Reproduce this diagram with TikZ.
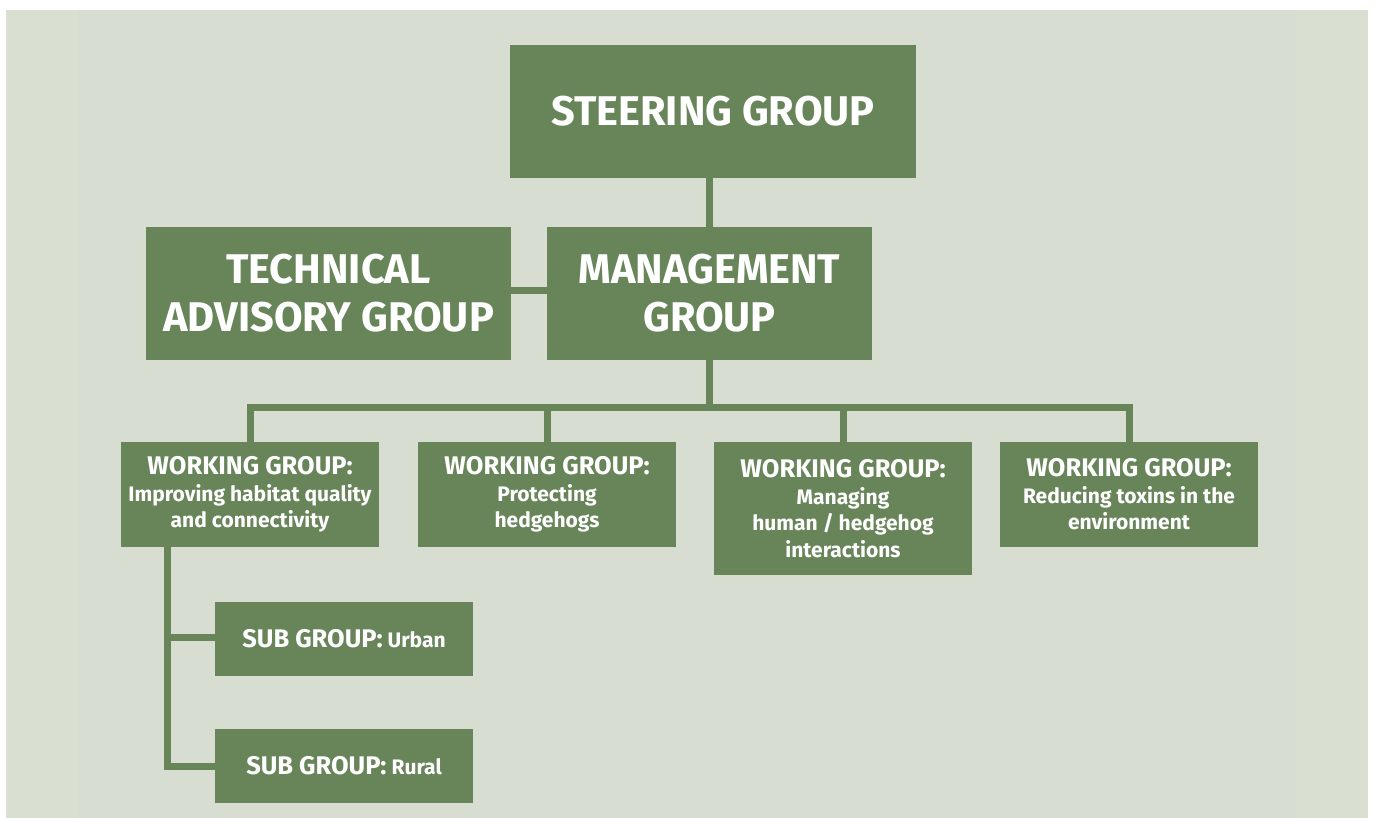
\documentclass[tikz,border=0pt]{standalone}
\usepackage{fontspec}
\setmainfont{Fira Sans}
\usetikzlibrary{calc}
\definecolor{bg}{HTML}{D7DDD1}
\definecolor{bgside}{HTML}{D9DFD1}
\definecolor{leaf}{HTML}{68855A}
\tikzset{
  box/.style={fill=leaf, text=white, inner sep=0pt, align=center, font=\bfseries},
  big/.style={box, font=\bfseries\fontsize{41.5}{48}\selectfont},
  wg/.style={box, minimum width=258pt, font=\bfseries\fontsize{21}{26.5}\selectfont},
  link/.style={draw=leaf, line width=7pt, line join=miter}
}
\newcommand{\wgh}{{\fontsize{25.5}{26.5}\selectfont WORKING GROUP:}}
\newcommand{\sgh}{{\fontsize{25.5}{26.5}\selectfont SUB GROUP:}}
\begin{document}
\begin{tikzpicture}[x=1pt,y=-1pt]
\useasboundingbox (0,0) rectangle (1375,818);
\fill[white] (0,0) rectangle (1375,818);
\fill[bgside] (6,10) rectangle (1368,818);
\fill[bg] (78,10) rectangle (1296,818);

\node[big, minimum width=406pt, minimum height=133pt] (steer) at (713,111.5) {STEERING GROUP};
\node[big, minimum width=325pt, minimum height=133pt] (mgmt) at (709.5,293.5) {MANAGEMENT\\GROUP};
\node[big, minimum width=365pt, minimum height=133pt] (tech) at (328.5,293.5) {TECHNICAL\\ADVISORY GROUP};

\node[wg, minimum height=105pt] (wg1) at (250,494.5) {\wgh\\Improving habitat quality\\and connectivity};
\node[wg, minimum height=105pt] (wg2) at (547,494.5) {\wgh\\Protecting\\hedgehogs};
\node[wg, minimum height=133pt] (wg3) at (843,508.5) {\wgh\\Managing\\human / hedgehog\\interactions};
\node[wg, minimum height=105pt] (wg4) at (1129,494.5) {\wgh\\Reducing toxins in the\\environment};

\node[wg, minimum height=74pt] (urban) at (344,639) {\sgh{} Urban};
\node[wg, minimum height=74pt] (rural) at (344,766) {\sgh{} Rural};

\coordinate (bus) at (709,407);
\coordinate (trunk) at (167,547);

\draw[link] (mgmt.north -| 709,0) -- (steer.south -| 709,0);
\draw[link] ($(tech.east)+(0,-3.5)$) -- ($(mgmt.west)+(0,-3.5)$);
\draw[link] (mgmt.south -| bus) -- (bus);
\draw[link] (wg1.north) -- (wg1.north |- bus) -- (wg4.north |- bus) -- (wg4.north);
\draw[link] (wg2.north) -- (wg2.north |- bus);
\draw[link] (wg3.north) -- (wg3.north |- bus);
\draw[link] (trunk) |- (rural.west);
\draw[link] (trunk |- urban.west) ++(0,-2) -- ($(urban.west)+(0,-2)$);
\end{tikzpicture}
\end{document}
